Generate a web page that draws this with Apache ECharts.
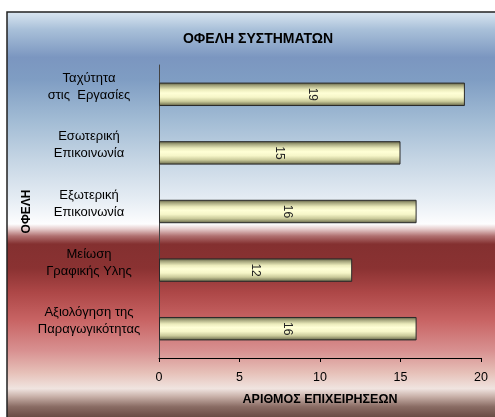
<!DOCTYPE html>
<html>
<head>
<meta charset="utf-8">
<script src="https://cdn.jsdelivr.net/npm/echarts@6/dist/echarts.min.js"></script>
<style>
  html, body { margin: 0; padding: 0; background: #fff; }
  #chart { width: 495px; height: 417px; }
</style>
</head>
<body>
<div id="chart"></div>
<script>
// categories, top to bottom
var categories = [
  'Ταχύτητα\nστις  Εργασίες',
  'Εσωτερική\nΕπικοινωνία',
  'Εξωτερική\nΕπικοινωνία',
  'Μείωση\nΓραφικής Υλης',
  'Αξιολόγηση της\nΠαραγωγικότητας'
];
var values = [19, 15, 16, 12, 16];
var xMin = 0, xMax = 20, xStep = 5;

var FONT = '"Liberation Sans", Arial, sans-serif';

// background of the chart panel (blue sky on top, red below)
var bgTop = 12, bgH = 412;
function stop(y, c) { return { offset: (y - bgTop) / bgH, color: c }; }
var bgFill = new echarts.graphic.LinearGradient(0, 0, 0, 1, [
  stop(12, '#dce8f2'),
  stop(30, '#a9c0d9'),
  stop(58, '#7b96c0'),
  stop(80, '#7f9dc3'),
  stop(120, '#a1bbd4'),
  stop(160, '#c5d5e4'),
  stop(200, '#e6edf4'),
  stop(224, '#fdfdfe'),
  stop(229, '#e6cccc'),
  stop(236, '#b07070'),
  stop(244, '#843030'),
  stop(268, '#8a3232'),
  stop(292, '#ad4747'),
  stop(320, '#c86464'),
  stop(350, '#d89090'),
  stop(372, '#e6c0b8'),
  stop(388, '#f0e4e0'),
  stop(396, '#c8b0a8'),
  stop(406, '#8a6c64'),
  stop(424, '#50342c')
]);

// bars look like cylinders: dark edges, pale yellow middle
var barFill = new echarts.graphic.LinearGradient(0, 0, 0, 1, [
  { offset: 0, color: '#55553c' },
  { offset: 0.12, color: '#a2a27a' },
  { offset: 0.3, color: '#ececbc' },
  { offset: 0.45, color: '#ffffd6' },
  { offset: 0.62, color: '#f6f6c8' },
  { offset: 0.8, color: '#caca9a' },
  { offset: 0.92, color: '#8a8a66' },
  { offset: 1, color: '#4e4e36' }
]);

var chart = echarts.init(document.getElementById('chart'), null, { renderer: 'canvas' });
chart.setOption({
  animation: false,
  backgroundColor: '#ffffff',
  graphic: [{
    type: 'rect',
    z: -10,
    silent: true,
    shape: { x: 7, y: bgTop, width: 500, height: bgH },
    style: { fill: bgFill, stroke: '#222', lineWidth: 1.5 }
  }],
  title: {
    text: 'ΟΦΕΛΗ ΣΥΣΤΗΜΑΤΩΝ',
    left: 253,
    textAlign: 'center',
    top: 27,
    textStyle: { fontFamily: FONT, fontSize: 14, fontWeight: 'bold', color: '#000' }
  },
  grid: { left: 159, right: 14, top: 65, bottom: 59 },
  xAxis: {
    type: 'value',
    min: xMin,
    max: xMax,
    interval: xStep,
    name: 'ΑΡΙΘΜΟΣ ΕΠΙΧΕΙΡΗΣΕΩΝ',
    nameLocation: 'middle',
    nameGap: 35,
    nameTextStyle: { fontFamily: FONT, fontSize: 12.5, fontWeight: 'bold', color: '#000' },
    axisLine: { show: true, lineStyle: { color: '#000', width: 1 } },
    axisTick: { show: true, length: 4, lineStyle: { color: '#000' } },
    axisLabel: { fontFamily: FONT, fontSize: 12.5, color: '#000', margin: 13 },
    splitLine: { show: false }
  },
  yAxis: {
    type: 'category',
    inverse: true,
    data: categories,
    name: 'ΟΦΕΛΗ',
    nameLocation: 'middle',
    nameGap: 126,
    nameRotate: 90,
    nameMoveOverlap: false,
    nameTextStyle: { fontFamily: FONT, fontSize: 12, fontWeight: 'bold', color: '#000' },
    axisLine: { show: true, lineStyle: { color: '#444', width: 1 } },
    axisTick: { show: false },
    axisLabel: {
      interval: 0,
      showMinLabel: true,
      showMaxLabel: true,
      hideOverlap: false,
      fontFamily: FONT, fontSize: 13, color: '#000',
      align: 'center', margin: 70, lineHeight: 17,
      // an empty line below lifts the two text lines a bit, as in the picture
      formatter: function (v) { return v + '\n{g|}'; },
      rich: { g: { height: 15, lineHeight: 15 } }
    },
    splitLine: { show: false }
  },
  series: [{
    type: 'bar',
    data: values,
    barCategoryGap: '60%',
    itemStyle: { color: barFill, borderColor: '#2a2a2a', borderWidth: 1 },
    label: {
      show: true,
      position: 'inside',
      rotate: -90,
      fontFamily: FONT,
      fontSize: 12,
      color: '#222'
    }
  }]
});
</script>
</body>
</html>
